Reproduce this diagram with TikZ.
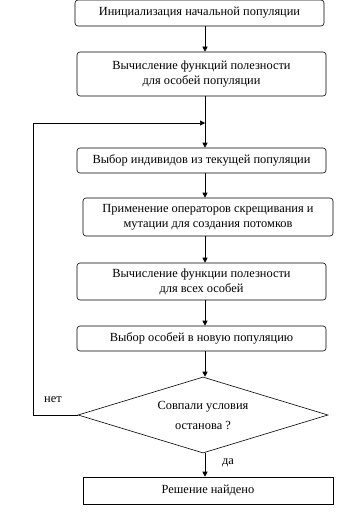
\documentclass[tikz,border=0pt]{standalone}
\usepackage{fontspec}
\setmainfont{Liberation Serif}
\usetikzlibrary{shapes.geometric,arrows.meta}
\begin{document}
\begin{tikzpicture}[x=1pt,y=-1pt,
  stage/.style={draw, rounded corners=3pt, align=center, inner sep=0pt, font=\fontsize{12.4}{15}\selectfont},
  final/.style={draw, align=center, inner sep=0pt, font=\fontsize{12.4}{15}\selectfont},
  cond/.style={draw, diamond, aspect=3.3, align=center, inner sep=0pt, minimum width=250pt, minimum height=76pt, font=\fontsize{12.4}{20}\selectfont},
  flow/.style={-{Triangle[length=5pt,width=5pt]}, line width=0.6pt},
  lbl/.style={font=\fontsize{12.4}{15}\selectfont, inner sep=0pt},
  every path/.style={line width=0.6pt}]
\useasboundingbox (0,0) rectangle (352,527);
\coordinate (spine) at (205,0);
\node[stage, minimum width=249pt, minimum height=26pt] (b1) at (199.5,13) {Инициализация начальной популяции};
\node[stage, minimum width=249pt, minimum height=44pt] (b2) at (201.5,74) {Вычисление функций полезности\\для особей популяции};
\node[stage, minimum width=249pt, minimum height=25pt] (b3) at (201.5,160.5) {Выбор индивидов из текущей популяции};
\node[stage, minimum width=250pt, minimum height=38pt] (b4) at (208,217) {Применение операторов скрещивания и\\мутации для создания потомков};
\node[stage, minimum width=249pt, minimum height=37pt] (b5) at (201.5,281.5) {Вычисление функции полезности\\для всех особей};
\node[stage, minimum width=249pt, minimum height=25pt] (b6) at (201.5,338.5) {Выбор особей в новую популяцию};
\node[cond] (d) at (203,415) {Совпали условия\\останова ?};
\node[final, minimum width=250pt, minimum height=27pt] (b7) at (208,490.5) {Решение найдено};
\coordinate (join) at (205,123);
\coordinate (lt) at (33,123);
\coordinate (lb) at (33,415);
\node[lbl] (no) at (53,400) {нет};
\node[lbl] (yes) at (228,463) {да};
\draw[flow] (b1.south -| spine) -- (b2.north -| spine);
\draw[flow] (b2.south -| spine) -- (b3.north -| spine);
\draw[flow] (b3.south -| spine) -- (b4.north -| spine);
\draw[flow] (b4.south -| spine) -- (b5.north -| spine);
\draw[flow] (b5.south -| spine) -- (b6.north -| spine);
\draw[flow] (b6.south -| spine) -- (d.north -| spine);
\draw[flow] (d.south -| spine) -- (b7.north -| spine);
\draw[flow] (d.west) -- (lb) -- (lt) -- (join);
\end{tikzpicture}
\end{document}
